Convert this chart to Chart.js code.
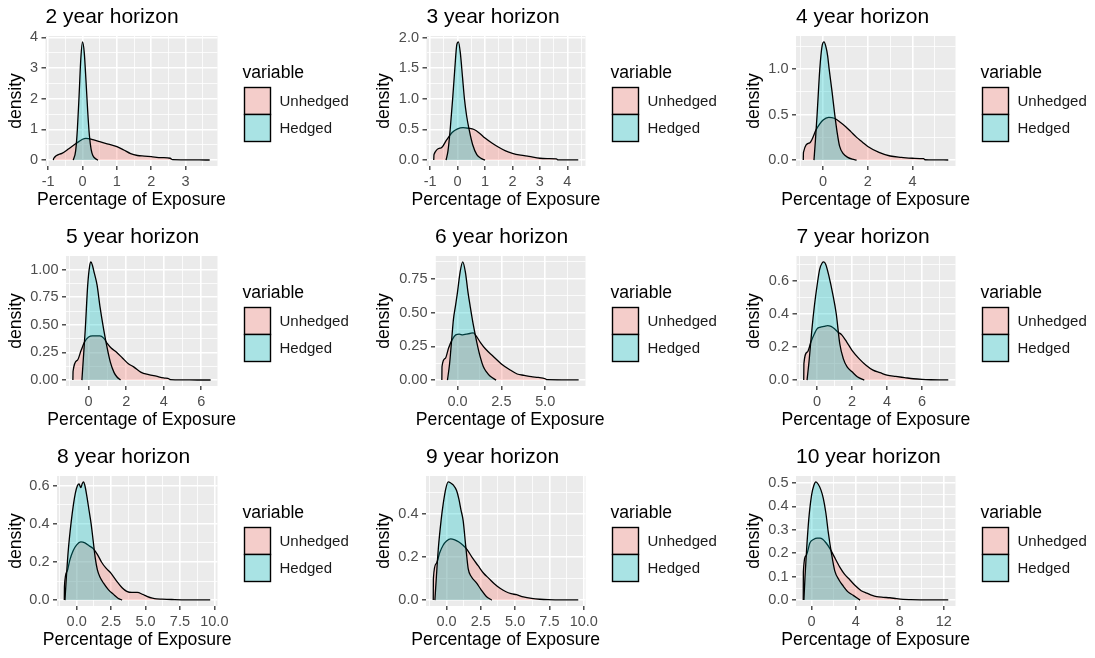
<!DOCTYPE html>
<html><head><meta charset="utf-8">
<script src="https://cdn.jsdelivr.net/npm/chart.js@4/dist/chart.umd.min.js"></script>
<style>
html,body{margin:0;padding:0;background:#fff;}
body{width:1095px;height:658px;position:relative;overflow:hidden;}
canvas{position:absolute;display:block;}
</style></head>
<body>
<script>
// ---------------- text ----------------
const panelTitles = ['2 year horizon','3 year horizon','4 year horizon','5 year horizon','6 year horizon','7 year horizon','8 year horizon','9 year horizon','10 year horizon'];
const seriesNames = ['Unhedged','Hedged'];
const legendTitle = 'variable';
const xAxisTitle = 'Percentage of Exposure';
const yAxisTitle = 'density';

// ---------------- data (x = percentage of exposure, y = density) ----------------
const h2UnhedgedX = [-0.85,-0.84,-0.6,-0.4,-0.2,0,0.1,0.3,0.5,0.75,1.0,1.2,1.4,1.6,1.8,2.0,2.3,2.55,2.62,3.0,3.4,3.7];
const h2UnhedgedY = [0,0.05,0.22,0.37,0.53,0.68,0.71,0.67,0.60,0.52,0.44,0.33,0.21,0.15,0.13,0.11,0.08,0.06,0.015,0.01,0.005,0.003];
const h2HedgedX = [-0.27,-0.2,-0.15,-0.1,-0.05,0,0.05,0.1,0.15,0.2,0.25,0.3,0.4,0.45];
const h2HedgedY = [0,0.3,1.0,2.1,3.3,3.85,3.5,2.6,1.6,0.8,0.35,0.15,0.03,0];
const h2XTicks = [-1,0,1,2,3];
const h2XLabels = ['-1','0','1','2','3'];
const h2YTicks = [0,1,2,3,4];
const h2YLabels = ['0','1','2','3','4'];

const h3UnhedgedX = [-0.87,-0.86,-0.6,-0.4,-0.2,0,0.2,0.4,0.6,0.8,1.0,1.25,1.5,1.75,2.0,2.3,2.6,3.0,3.3,3.6,3.65,4.0,4.4];
const h3UnhedgedY = [0,0.09,0.2,0.33,0.45,0.51,0.53,0.52,0.50,0.44,0.36,0.28,0.21,0.15,0.11,0.08,0.06,0.03,0.025,0.02,0.005,0.003,0.002];
const h3HedgedX = [-0.42,-0.35,-0.27,-0.18,-0.1,-0.03,0.03,0.1,0.18,0.25,0.33,0.42,0.55,0.7,0.85,1.0];
const h3HedgedY = [0,0.15,0.5,1.0,1.5,1.88,1.93,1.75,1.35,1.0,0.72,0.5,0.25,0.09,0.03,0];
const h3XTicks = [-1,0,1,2,3,4];
const h3XLabels = ['-1','0','1','2','3','4'];
const h3YTicks = [0,0.5,1,1.5,2];
const h3YLabels = ['0.0','0.5','1.0','1.5','2.0'];

const h4UnhedgedX = [-0.89,-0.88,-0.6,-0.3,0,0.25,0.5,0.75,1.0,1.25,1.5,1.75,2.0,2.5,3.0,3.5,4.0,4.5,4.55,5.0,5.6];
const h4UnhedgedY = [0,0.085,0.19,0.34,0.44,0.47,0.46,0.42,0.37,0.31,0.25,0.2,0.15,0.085,0.045,0.03,0.02,0.015,0.004,0.002,0.001];
const h4HedgedX = [-0.41,-0.35,-0.27,-0.15,-0.05,0.04,0.12,0.2,0.27,0.4,0.52,0.63,0.74,0.9,1.1,1.3,1.5];
const h4HedgedY = [0,0.2,0.5,1.0,1.25,1.30,1.25,1.15,1.0,0.75,0.5,0.3,0.15,0.07,0.03,0.01,0];
const h4XTicks = [0,2,4];
const h4XLabels = ['0','2','4'];
const h4YTicks = [0,0.5,1];
const h4YLabels = ['0.0','0.5','1.0'];

const h5UnhedgedX = [-0.84,-0.83,-0.6,-0.4,-0.2,0,0.2,0.4,0.6,0.8,1.0,1.2,1.5,1.8,2.1,2.4,2.8,3.2,3.6,4.0,4.3,4.35,5.0,5.8,6.5];
const h5UnhedgedY = [0,0.08,0.18,0.27,0.35,0.39,0.40,0.40,0.40,0.38,0.33,0.29,0.25,0.20,0.15,0.12,0.07,0.05,0.035,0.02,0.01,0.004,0.002,0.001,0.001];
const h5HedgedX = [-0.36,-0.28,-0.18,-0.05,0.05,0.12,0.2,0.3,0.45,0.6,0.8,1.0,1.16,1.35,1.5,1.7];
const h5HedgedY = [0,0.2,0.46,0.86,1.03,1.07,1.04,0.97,0.86,0.67,0.46,0.28,0.16,0.07,0.03,0];
const h5XTicks = [0,2,4,6];
const h5XLabels = ['0','2','4','6'];
const h5YTicks = [0,0.25,0.5,0.75,1];
const h5YLabels = ['0.00','0.25','0.50','0.75','1.00'];

const h6UnhedgedX = [-0.89,-0.88,-0.7,-0.5,-0.3,-0.1,0.1,0.3,0.5,0.7,0.9,1.1,1.3,1.6,2.0,2.5,3.0,3.4,3.8,4.2,4.6,5.0,5.1,6.0,6.9];
const h6UnhedgedY = [0,0.1,0.16,0.24,0.30,0.335,0.34,0.335,0.34,0.345,0.35,0.32,0.28,0.23,0.18,0.12,0.075,0.045,0.035,0.025,0.02,0.01,0.003,0.002,0.001];
const h6HedgedX = [-0.57,-0.45,-0.33,-0.23,-0.1,0,0.15,0.3,0.45,0.6,0.72,0.9,1.1,1.3,1.47,1.65,1.85,2.2];
const h6HedgedY = [0,0.12,0.3,0.45,0.56,0.65,0.8,0.875,0.8,0.65,0.55,0.41,0.28,0.17,0.10,0.06,0.03,0];
const h6XTicks = [0,2.5,5];
const h6XLabels = ['0.0','2.5','5.0'];
const h6YTicks = [0,0.25,0.5,0.75];
const h6YLabels = ['0.00','0.25','0.50','0.75'];

const h7UnhedgedX = [-0.76,-0.75,-0.55,-0.35,-0.15,0,0.2,0.4,0.6,0.8,1.0,1.2,1.4,1.7,2.0,2.4,2.8,3.2,3.6,4.0,4.5,5.0,5.5,6.0,6.5,7.0,7.5];
const h7UnhedgedY = [0,0.1,0.17,0.23,0.28,0.31,0.32,0.325,0.33,0.325,0.31,0.29,0.275,0.23,0.18,0.13,0.09,0.06,0.045,0.03,0.022,0.015,0.008,0.004,0.002,0.001,0.001];
const h7HedgedX = [-0.57,-0.45,-0.29,-0.15,0,0.15,0.3,0.38,0.5,0.7,0.9,1.1,1.3,1.5,1.72,2.0,2.3,2.7];
const h7HedgedY = [0,0.12,0.31,0.45,0.57,0.67,0.71,0.715,0.70,0.62,0.52,0.40,0.22,0.13,0.08,0.05,0.02,0];
const h7XTicks = [0,2,4,6];
const h7XLabels = ['0','2','4','6'];
const h7YTicks = [0,0.2,0.4,0.6];
const h7YLabels = ['0.0','0.2','0.4','0.6'];

const h8UnhedgedX = [-0.9,-0.89,-0.7,-0.5,-0.25,0,0.3,0.6,0.9,1.2,1.5,1.8,2.1,2.5,2.9,3.3,3.64,4.0,4.4,4.8,5.1,5.5,5.8,6.2,6.9,8.0,9.7];
const h8UnhedgedY = [0,0.07,0.15,0.21,0.26,0.29,0.305,0.30,0.285,0.27,0.24,0.2,0.17,0.14,0.1,0.065,0.046,0.04,0.04,0.03,0.02,0.01,0.006,0.005,0.003,0.001,0.001];
const h8HedgedX = [-0.85,-0.75,-0.6,-0.4,-0.24,-0.1,0.05,0.17,0.3,0.4,0.49,0.6,0.75,0.9,1.05,1.2,1.35,1.5,1.7,1.94,2.3,2.67,3.0,3.3];
const h8HedgedY = [0,0.12,0.27,0.41,0.5,0.56,0.6,0.61,0.59,0.61,0.62,0.6,0.54,0.47,0.4,0.31,0.22,0.16,0.12,0.09,0.055,0.03,0.01,0];
const h8XTicks = [0,2.5,5,7.5,10];
const h8XLabels = ['0.0','2.5','5.0','7.5','10.0'];
const h8YTicks = [0,0.2,0.4,0.6];
const h8YLabels = ['0.0','0.2','0.4','0.6'];

const h9UnhedgedX = [-0.97,-0.96,-0.75,-0.5,-0.25,0,0.3,0.6,0.9,1.2,1.5,1.9,2.3,2.7,3.1,3.5,3.9,4.3,4.7,5.1,5.6,6.2,6.8,7.4,8.5,9.6];
const h9UnhedgedY = [0,0.1,0.17,0.22,0.255,0.275,0.285,0.28,0.27,0.255,0.235,0.195,0.16,0.125,0.1,0.075,0.055,0.04,0.03,0.025,0.015,0.008,0.004,0.002,0.001,0.001];
const h9HedgedX = [-0.85,-0.75,-0.6,-0.4,-0.24,-0.05,0.12,0.3,0.5,0.73,0.9,1.05,1.21,1.4,1.58,1.8,2.18,2.5,2.9,3.3];
const h9HedgedY = [0,0.1,0.24,0.37,0.45,0.52,0.55,0.545,0.535,0.51,0.47,0.42,0.37,0.25,0.145,0.11,0.08,0.05,0.017,0];
const h9XTicks = [0,2.5,5,7.5,10];
const h9XLabels = ['0.0','2.5','5.0','7.5','10.0'];
const h9YTicks = [0,0.2,0.4];
const h9YLabels = ['0.0','0.2','0.4'];

const h10UnhedgedX = [-0.76,-0.75,-0.5,-0.15,0.2,0.5,0.76,1.0,1.3,1.66,2.0,2.57,3.0,3.5,4.0,4.5,5.0,5.5,5.9,6.5,7.1,7.7,8.3,9.0,10.5,12.4];
const h10UnhedgedY = [0,0.12,0.19,0.245,0.26,0.265,0.265,0.26,0.245,0.22,0.19,0.14,0.11,0.085,0.06,0.04,0.03,0.02,0.015,0.012,0.01,0.006,0.003,0.002,0.001,0.001];
const h10HedgedX = [-0.7,-0.6,-0.45,-0.25,0,0.2,0.39,0.6,0.85,1.06,1.3,1.51,1.8,2.1,2.5,2.87,3.3,3.78,4.4];
const h10HedgedY = [0,0.1,0.22,0.35,0.45,0.49,0.505,0.495,0.47,0.435,0.37,0.29,0.2,0.125,0.085,0.06,0.035,0.02,0];
const h10XTicks = [0,4,8,12];
const h10XLabels = ['0','4','8','12'];
const h10YTicks = [0,0.1,0.2,0.3,0.4,0.5];
const h10YLabels = ['0.0','0.1','0.2','0.3','0.4','0.5'];

const panelData = [
  [h2UnhedgedX,h2UnhedgedY,h2HedgedX,h2HedgedY,h2XTicks,h2XLabels,h2YTicks,h2YLabels],
  [h3UnhedgedX,h3UnhedgedY,h3HedgedX,h3HedgedY,h3XTicks,h3XLabels,h3YTicks,h3YLabels],
  [h4UnhedgedX,h4UnhedgedY,h4HedgedX,h4HedgedY,h4XTicks,h4XLabels,h4YTicks,h4YLabels],
  [h5UnhedgedX,h5UnhedgedY,h5HedgedX,h5HedgedY,h5XTicks,h5XLabels,h5YTicks,h5YLabels],
  [h6UnhedgedX,h6UnhedgedY,h6HedgedX,h6HedgedY,h6XTicks,h6XLabels,h6YTicks,h6YLabels],
  [h7UnhedgedX,h7UnhedgedY,h7HedgedX,h7HedgedY,h7XTicks,h7XLabels,h7YTicks,h7YLabels],
  [h8UnhedgedX,h8UnhedgedY,h8HedgedX,h8HedgedY,h8XTicks,h8XLabels,h8YTicks,h8YLabels],
  [h9UnhedgedX,h9UnhedgedY,h9HedgedX,h9HedgedY,h9XTicks,h9XLabels,h9YTicks,h9YLabels],
  [h10UnhedgedX,h10UnhedgedY,h10HedgedX,h10HedgedY,h10XTicks,h10XLabels,h10YTicks,h10YLabels]
];

// ---------------- layout / style ----------------
const colLeft = [0, 368, 738];
const rowTop = [0, 220, 440];
const canvasW = 357, canvasH = 218;
const plotLeft = [45.5, 58.5, 58, 66, 67, 58.5, 57, 58, 58];
const plotRight = 217.5;
const fillColors = ['rgba(248,118,109,0.3)', 'rgba(0,191,196,0.3)'];
const FONT = '"Liberation Sans", Arial, Helvetica, sans-serif';
Chart.defaults.font.family = FONT;

const panelBg = {
  id: 'panelBg',
  beforeDraw(chart) {
    const {ctx, chartArea: a} = chart;
    ctx.save();
    ctx.fillStyle = '#EBEBEB';
    ctx.fillRect(a.left, a.top, a.right - a.left, a.bottom - a.top);
    ctx.restore();
  }
};

const xTitlePlugin = {
  id: 'xTitlePlugin',
  afterDraw(chart) {
    const {ctx, chartArea: a} = chart;
    ctx.save();
    ctx.font = '17.6px ' + FONT;
    ctx.fillStyle = '#000';
    ctx.textAlign = 'center';
    ctx.textBaseline = 'middle';
    ctx.fillText(xAxisTitle, (a.left + a.right) / 2, a.bottom + 34);
    ctx.restore();
  }
};

const keyLegend = {
  id: 'keyLegend',
  afterDraw(chart) {
    const {ctx, chartArea: a} = chart;
    ctx.save();
    ctx.textAlign = 'left';
    ctx.textBaseline = 'alphabetic';
    ctx.fillStyle = '#000';
    ctx.font = '17.6px ' + FONT;
    ctx.fillText(legendTitle, a.right + 25, a.top + 41.5);
    chart.data.datasets.forEach((ds, k) => {
      const bx = a.right + 27, by = a.top + 51.5 + k * 27;
      ctx.fillStyle = '#F2F2F2';
      ctx.fillRect(bx, by, 26, 27);
      ctx.fillStyle = ds.backgroundColor;
      ctx.fillRect(bx, by, 26, 27);
      ctx.strokeStyle = '#000';
      ctx.lineWidth = 1.4;
      ctx.strokeRect(bx, by, 26, 27);
      ctx.font = '15px ' + FONT;
      ctx.fillStyle = '#1A1A1A';
      ctx.textBaseline = 'middle';
      ctx.fillText(ds.label, a.right + 62, by + 14);
    });
    ctx.restore();
  }
};

function withMinors(majors, min, max) {
  const half = (majors[1] - majors[0]) / 2;
  const out = [];
  for (let k = -1; k <= (majors.length - 1) * 2 + 1; k++) {
    const v = +(majors[0] + k * half).toFixed(6);
    if (v >= min - 1e-9 && v <= max + 1e-9) out.push(v);
  }
  return out;
}
const isMajor = (majors, v) => majors.some(m => Math.abs(m - v) < 1e-6);

panelData.forEach((p, i) => {
  const [ux, uy, hx, hy, xt, xl, yt, yl] = p;
  const allX = ux.concat(hx);
  const x0 = Math.min(...allX), x1 = Math.max(...allX);
  const xmin = x0 - 0.05 * (x1 - x0), xmax = x1 + 0.05 * (x1 - x0);
  const ytop = Math.max(...uy, ...hy);
  const ymin = -0.05 * ytop, ymax = ytop * 1.05;

  const cv = document.createElement('canvas');
  cv.width = canvasW; cv.height = canvasH;
  cv.style.left = colLeft[i % 3] + 'px';
  cv.style.top = rowTop[Math.floor(i / 3)] + 'px';
  cv.style.width = canvasW + 'px'; cv.style.height = canvasH + 'px';
  document.body.appendChild(cv);

  const gridOpts = {
    color: '#FFFFFF',
    lineWidth: c => (c.tick && c.tick.major) ? 1.6 : 0.8,
    drawTicks: true,
    tickLength: 4,
    tickWidth: 1.3,
    tickColor: c => (c.tick && c.tick.major) ? '#333333' : 'rgba(0,0,0,0)'
  };
  const mk = (key) => ({
    type: 'linear', bounds: 'data',
    min: key === 'x' ? xmin : ymin,
    max: key === 'x' ? xmax : ymax,
    afterBuildTicks: s => {
      const majors = key === 'x' ? xt : yt;
      s.ticks = withMinors(majors, s.min, s.max).map(v => ({value: v, major: isMajor(majors, v)}));
    },
    ticks: {
      autoSkip: false, maxRotation: 0, minRotation: 0, padding: 3.5,
      color: '#4D4D4D', font: {size: 14.5},
      callback: (v) => {
        const majors = key === 'x' ? xt : yt;
        const labels = key === 'x' ? xl : yl;
        const m = majors.findIndex(q => Math.abs(q - v) < 1e-6);
        return m >= 0 ? labels[m] : '';
      }
    },
    grid: gridOpts,
    border: {display: false}
  });

  const xs = mk('x');
  xs.afterFit = s => { s.height = 52; };
  xs.title = {display: false};
  const ys = mk('y');
  ys.afterFit = s => { s.width = plotLeft[i]; };
  ys.title = {display: true, text: yAxisTitle, color: '#000', font: {size: 17.6}, padding: {top: 6, bottom: 0}};

  new Chart(cv, {
    type: 'line',
    data: {
      datasets: [
        {label: seriesNames[0], data: ux.map((x, k) => ({x, y: uy[k]})), backgroundColor: fillColors[0],
         borderColor: '#000', borderWidth: 1.3, fill: 'origin', pointRadius: 0, cubicInterpolationMode: 'monotone', order: 1},
        {label: seriesNames[1], data: hx.map((x, k) => ({x, y: hy[k]})), backgroundColor: fillColors[1],
         borderColor: '#000', borderWidth: 1.3, fill: 'origin', pointRadius: 0, cubicInterpolationMode: 'monotone', order: 0}
      ]
    },
    options: {
      responsive: false, animation: false, devicePixelRatio: 1,
      layout: {padding: {left: 0, top: 0, bottom: 0, right: canvasW - plotRight}},
      scales: {x: xs, y: ys},
      plugins: {
        legend: {display: false},
        tooltip: {enabled: false},
        title: {display: true, text: panelTitles[i], align: 'start', fullSize: false, color: '#000',
                font: {size: 21, weight: 'normal'}, padding: {top: 5, bottom: 5.8}}
      }
    },
    plugins: [panelBg, xTitlePlugin, keyLegend]
  });
});
</script>
</body></html>
